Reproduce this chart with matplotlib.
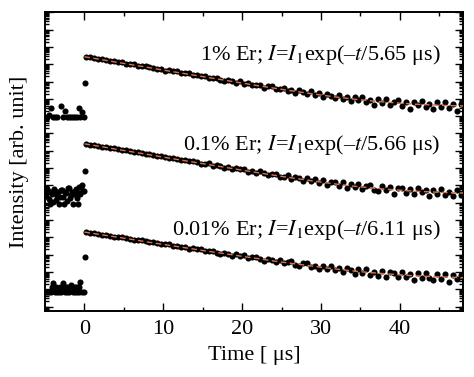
import numpy as np
import matplotlib
matplotlib.use('Agg')
import matplotlib.pyplot as plt
from matplotlib.ticker import LogLocator, NullFormatter, MultipleLocator

# values are log10(intensity), arbitrary units, curves offset vertically
t_pre = np.arange(-5.0, 0.01, 0.25)      # 21 samples before excitation
t_pre_b = np.arange(-4.875, 0.0, 0.25)   # interleaved samples
t_rise = 0.05
t_decay = np.arange(0.25, 48.5, 0.5)     # 97 samples
t_fit = np.arange(0, 49, 2)

nan = np.nan

# ---- 1% Er ----
pre_1 = [11.96, 11.96, 12.08, 12.45, 11.96, 11.96, 11.96, nan, 12.58, 11.96, 12.30,
         11.96, 11.96, 11.96, 11.96, 11.96, 11.96, 12.48, 11.96, 12.25, 11.96]
rise_1 = 13.94
decay_1 = [15.43, 15.40, 15.34, 15.32, 15.29, 15.23, 15.21, 15.16, 15.11, 15.10,
           15.03, 15.02, 14.99, 14.92, 14.87, 14.88, 14.82, 14.76, 14.75, 14.72,
           14.63, 14.65, 14.58, 14.59, 14.48, 14.48, 14.47, 14.36, 14.38, 14.30,
           14.33, 14.20, 14.23, 14.22, 14.10, 14.04, 14.10, 14.03, 13.93, 14.01,
           13.87, 13.94, 13.78, 13.82, 13.81, 13.65, 13.72, 13.73, 13.57, 13.57,
           13.64, 13.45, 13.52, 13.35, 13.49, 13.40, 13.26, 13.43, 13.24, 13.31,
           13.10, 13.28, 13.19, 13.03, 13.23, 13.01, 13.12, 12.88, 13.09, 12.94,
           13.08, 12.81, 12.95, 12.63, 12.98, 12.76, 12.97, 12.67, 12.82, 12.92,
           12.60, 12.82, 12.42, 12.83, 12.62, 12.85, 12.53, 12.72, 12.43, 12.79,
           12.53, 12.80, 12.45, 12.69, 12.32, 12.73, 12.47]
fit_1 = [15.43, 15.28, 15.12, 14.97, 14.82, 14.66, 14.51, 14.36, 14.21, 14.06, 13.91,
         13.76, 13.62, 13.48, 13.35, 13.22, 13.10, 12.99, 12.90, 12.82, 12.75, 12.69,
         12.65, 12.61, 12.59]

# ---- 0.1% Er ----
pre_2 = [7.55, 7.78, 7.20, 7.62, 7.05, 7.70, 7.40, 6.90, 7.75, 7.30, 7.60,
         7.10, 7.82, 7.45, 6.92, 7.68, 7.25, 7.90, 7.50, 8.02, 7.65]
pre_2b = [7.40, 7.65, 6.95, 7.50, 7.80, 7.15, 7.60, 7.35, 7.72, 6.90,
          7.55, 7.85, 7.25, 7.62, 7.48, 7.78, 6.95, 7.58, 7.88, 7.70]
rise_2 = 8.84
decay_2 = [10.40, 10.35, 10.33, 10.30, 10.24, 10.21, 10.16, 10.14, 10.10, 10.05,
           10.04, 9.97, 9.92, 9.92, 9.87, 9.81, 9.81, 9.75, 9.69, 9.68,
           9.66, 9.58, 9.60, 9.51, 9.45, 9.47, 9.39, 9.38, 9.37, 9.25,
           9.23, 9.27, 9.14, 9.20, 9.11, 9.02, 9.08, 8.93, 8.98, 8.94,
           8.94, 8.79, 8.84, 8.70, 8.81, 8.71, 8.60, 8.68, 8.66, 8.47,
           8.47, 8.59, 8.37, 8.48, 8.41, 8.24, 8.41, 8.25, 8.37, 8.15,
           8.29, 8.03, 8.18, 8.21, 7.99, 8.18, 7.82, 8.07, 7.91, 8.07,
           7.79, 7.96, 8.02, 7.76, 7.67, 7.94, 7.73, 7.93, 7.51, 7.83,
           7.87, 7.58, 7.77, 7.49, 7.83, 7.60, 7.76, 7.36, 7.76, 7.52,
           7.77, 7.44, 7.64, 7.38, 7.72, 7.45, 7.72]
fit_2 = [10.40, 10.25, 10.09, 9.94, 9.79, 9.63, 9.48, 9.33, 9.18, 9.03, 8.88,
         8.73, 8.59, 8.45, 8.32, 8.19, 8.07, 7.96, 7.87, 7.79, 7.72, 7.66,
         7.62, 7.58, 7.56]

# ---- 0.01% Er ----
pre_3 = [1.83, 1.83, 1.83, 1.83, 2.36, 1.83, 1.83, 1.83, 1.83, 2.36, 1.83,
         1.83, 1.83, 2.25, 1.83, 1.83, 1.83, 1.83, 2.42, 1.83, 1.83]
pre_3b = [nan, nan, nan, 2.12, 2.12, 2.12, nan, 2.12, 2.12, 2.12,
          2.12, 2.12, nan, 2.12, 2.12, 2.12, 2.12, 2.12, nan, nan]
rise_3 = 3.85
decay_3 = [5.31, 5.27, 5.22, 5.20, 5.16, 5.11, 5.10, 5.04, 5.02, 4.99,
           4.94, 4.93, 4.86, 4.85, 4.83, 4.76, 4.71, 4.72, 4.67, 4.61,
           4.61, 4.59, 4.49, 4.50, 4.43, 4.46, 4.35, 4.37, 4.30, 4.32,
           4.20, 4.23, 4.22, 4.11, 4.06, 4.11, 4.06, 3.94, 4.02, 3.91,
           3.95, 3.80, 3.87, 3.86, 3.73, 3.65, 3.77, 3.69, 3.57, 3.68,
           3.49, 3.59, 3.61, 3.42, 3.36, 3.49, 3.50, 3.28, 3.36, 3.18,
           3.36, 3.18, 3.33, 3.09, 3.21, 3.00, 3.22, 3.13, 2.88, 3.17,
           2.93, 3.14, 2.84, 3.01, 2.76, 3.03, 2.69, 3.02, 2.93, 2.69,
           2.99, 2.70, 2.89, 2.53, 2.92, 2.62, 2.93, 2.66, 2.53, 2.86,
           2.58, 2.87, 2.40, 2.81, 2.59, 2.83, 2.49]
fit_3 = [5.30, 5.16, 5.02, 4.88, 4.73, 4.59, 4.45, 4.31, 4.17, 4.04, 3.90,
         3.77, 3.63, 3.51, 3.39, 3.27, 3.16, 3.06, 2.97, 2.90, 2.83, 2.77,
         2.73, 2.70, 2.67]

labels = ['1% Er; $I$=$I_1$exp(\u2013$t$/5.65 \u03bcs)',
          '0.1% Er; $I$=$I_1$exp(\u2013$t$/5.66 \u03bcs)',
          '0.01% Er; $I$=$I_1$exp(\u2013$t$/6.11 \u03bcs)']
label_y = [0.840, 0.539, 0.254]

plt.rcParams['font.family'] = ['Liberation Serif', 'DejaVu Serif']
plt.rcParams['mathtext.fontset'] = 'stix'
plt.rcParams['font.size'] = 16

fig = plt.figure(figsize=(4.74, 3.77), dpi=100)
ax = fig.add_axes([0.0949, 0.1759, 0.8819, 0.7915])

def dots(t, v):
    ax.plot(t, 10.0 ** np.asarray(v, dtype=float), 'o', color='k', ms=4.4, mew=0, zorder=2)

curves = [(pre_1, None, rise_1, decay_1, fit_1),
          (pre_2, pre_2b, rise_2, decay_2, fit_2),
          (pre_3, pre_3b, rise_3, decay_3, fit_3)]
for pre, pre_b, rise, decay, fit in curves:
    dots(t_pre, pre)
    if pre_b is not None:
        dots(t_pre_b, pre_b)
    dots([t_rise], [rise])
    dots(t_decay, decay)
    ax.plot(t_fit, 10.0 ** np.asarray(fit), color='#e0704a', lw=1.0,
            dashes=(4, 2.5), zorder=3)

for txt, y in zip(labels, label_y):
    ax.text(0.947, y, txt, transform=ax.transAxes, ha='right', va='baseline')

ax.set_yscale('log')
ax.set_xlim(-5, 48)
ax.set_ylim(10 ** 0.76, 1e18)
ax.yaxis.set_major_locator(LogLocator(base=10, numticks=40))
ax.yaxis.set_minor_locator(LogLocator(base=10, subs=np.arange(2, 10) * 1.0, numticks=40))
ax.yaxis.set_major_formatter(NullFormatter())
ax.yaxis.set_minor_formatter(NullFormatter())
ax.xaxis.set_major_locator(MultipleLocator(10))
ax.xaxis.set_minor_locator(MultipleLocator(5))

ax.tick_params(which='both', direction='in', top=True, right=True, width=1.0)
ax.tick_params(which='major', length=5.5)
ax.tick_params(which='minor', length=3)
ax.tick_params(axis='x', pad=6.5)
for s in ax.spines.values():
    s.set_linewidth(1.4)

ax.set_xlabel('Time [ \u03bcs]', labelpad=5)
ax.set_ylabel('Intensity [arb. unit]', labelpad=8)

fig.savefig('out.png', dpi=100)
